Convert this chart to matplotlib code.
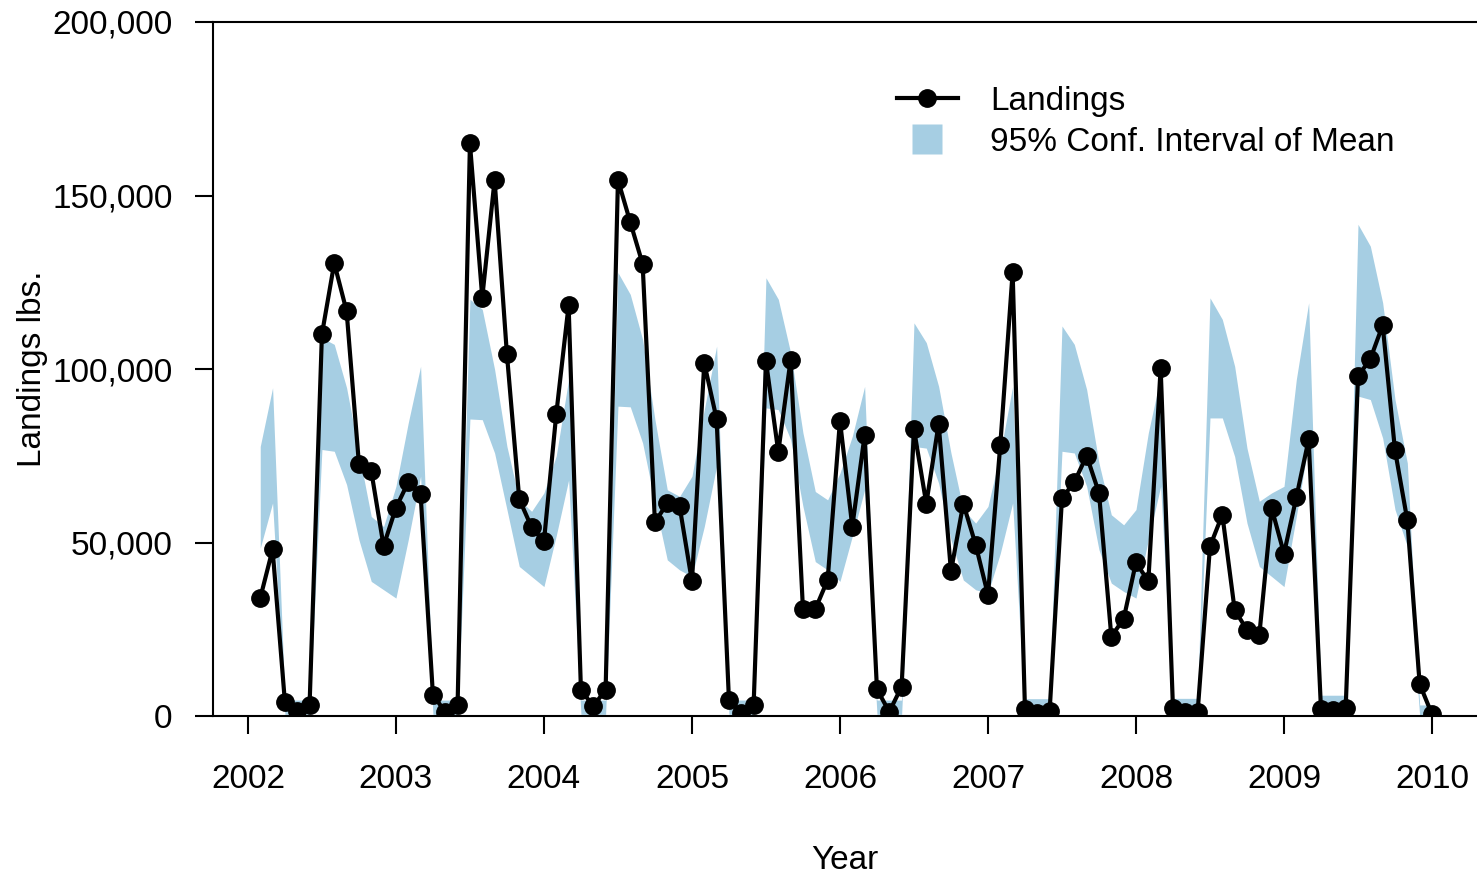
import matplotlib
matplotlib.use("Agg")
import matplotlib.pyplot as plt
from matplotlib.lines import Line2D
from matplotlib.ticker import FuncFormatter
import numpy as np

plt.rcParams['font.family'] = ['Liberation Sans', 'DejaVu Sans']

# monthly landings (lbs), Feb 2002 .. Jan 2010
landings = [
    34000, 48000, 4000, 1500, 3300, 110000, 130500, 116700, 72700, 70600, 49000, 60000,
    67400, 63900, 6100, 1200, 3200, 165000, 120600, 154500, 104200, 62500, 54400, 50300,
    87000, 118400, 7500, 2900, 7500, 154500, 142300, 130300, 55900, 61300, 60400, 38800,
    101700, 85600, 4600, 1000, 3200, 102300, 76100, 102700, 30800, 30800, 39200, 85100,
    54600, 80900, 7700, 1200, 8500, 82700, 61200, 84200, 41700, 61200, 49400, 34900,
    78200, 127900, 1900, 800, 1500, 62800, 67400, 75000, 64300, 22900, 28000, 44300,
    38800, 100300, 2200, 1200, 1200, 48900, 58000, 30600, 24800, 23400, 59900, 46800,
    63000, 79700, 1900, 1700, 2200, 97900, 102900, 112600, 76600, 56400, 9200, 500,
]

# 95% confidence interval of the mean, upper and lower edges
ci_upper = [
    77700, 94600, 4600, 4600, 4600, 109000, 107100, 94600, 75800, 57500, 54600, 66200,
    84500, 100800, 4600, 4600, 4600, 120100, 117200, 99900, 77700, 62300, 59000, 64300,
    75000, 97000, 4600, 4600, 4600, 127800, 121500, 108500, 85400, 65200, 63300, 69100,
    88300, 106600, 4600, 4600, 4600, 126300, 120100, 104700, 81600, 64700, 62300, 70000,
    80600, 95000, 4600, 4600, 4600, 113300, 107600, 95000, 75800, 59500, 55600, 60400,
    75800, 95000, 5000, 5000, 5000, 112400, 107100, 94100, 72900, 58000, 55100, 59500,
    81600, 97900, 5100, 5100, 5100, 120500, 114300, 100800, 77200, 61900, 64300, 66200,
    97000, 119100, 6000, 6000, 6000, 141700, 135400, 119100, 91200, 72900, 3200, 3200,
]
ci_lower = [
    48400, 61400, 500, 500, 500, 76800, 76300, 66700, 50800, 38800, 36400, 34000,
    50800, 69100, 500, 500, 500, 85600, 85400, 75800, 59500, 43100, 40200, 37300,
    52000, 68000, 500, 500, 500, 89300, 89100, 78700, 61400, 45000, 42100, 40200,
    54600, 72000, 500, 500, 500, 88800, 88300, 79700, 60400, 44500, 42100, 38800,
    51800, 65200, 500, 500, 500, 77700, 77200, 67100, 50800, 39200, 36400, 35400,
    46900, 61400, 500, 500, 500, 76300, 75800, 66200, 47900, 38300, 35900, 34000,
    50800, 66200, 500, 500, 500, 85900, 85900, 74800, 55600, 43100, 40200, 37300,
    57500, 78700, 500, 500, 500, 92200, 91200, 80100, 59500, 48900, 0, 0,
]

years = [2002, 2003, 2004, 2005, 2006, 2007, 2008, 2009, 2010]
t = 2002 + np.arange(1, len(landings) + 1) / 12.0

blue = '#A6CEE3'

fig = plt.figure(figsize=(14.77, 8.76), dpi=100)
ax = fig.add_axes([0.1442, 0.1826, 0.8558, 0.7923])

ax.fill_between(t, ci_lower, ci_upper, color=blue, lw=0)
ax.plot(t, landings, color='black', lw=3, marker='o', ms=12.5)

ax.set_xlim(2001.764, 2010.304)
ax.set_ylim(0, 200000)
ax.set_xticks(years)
ax.set_yticks([0, 50000, 100000, 150000, 200000])
ax.yaxis.set_major_formatter(FuncFormatter(lambda v, p: '{:,.0f}'.format(v)))

ax.spines['right'].set_visible(False)
for s in ['left', 'top', 'bottom']:
    ax.spines[s].set_linewidth(1.5)
ax.tick_params(axis='both', labelsize=24, width=1.5, length=13, direction='out')
ax.tick_params(axis='y', pad=16)
ax.tick_params(axis='x', pad=21.5)

ax.set_xlabel('Year', fontsize=24, labelpad=36)
ax.set_ylabel('Landings lbs.', fontsize=24)
ax.yaxis.set_label_coords(-0.1305, 0.5)

h1 = Line2D([], [], color='black', lw=3, marker='o', ms=12.5)
h2 = Line2D([], [], ls='none', marker='s', ms=21, mfc=blue, mec='none')
ax.legend([h1, h2], ['Landings', '95% Conf. Interval of Mean'],
          loc='upper left', bbox_to_anchor=(0.6073, 0.9018),
          bbox_transform=fig.transFigure, frameon=False, fontsize=24,
          borderpad=0, borderaxespad=0, handlelength=1.83,
          handletextpad=0.96, labelspacing=0.29)

fig.savefig('out.png', dpi=100)
